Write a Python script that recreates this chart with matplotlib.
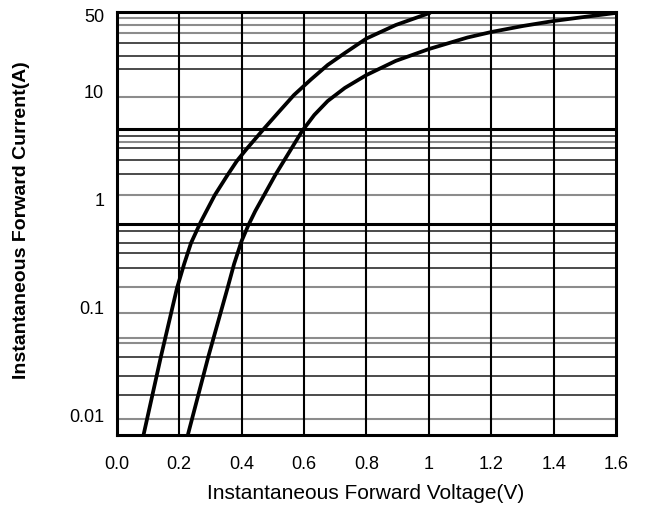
import matplotlib
matplotlib.use('Agg')
import matplotlib.pyplot as plt

# forward voltage (V) / current (A)
volt_a = [0.086, 0.142, 0.193, 0.216, 0.238, 0.269, 0.314, 0.355, 0.385, 0.416, 0.470, 0.519,
          0.568, 0.622, 0.676, 0.731, 0.800, 0.894, 1.000]
amp_a = [0.0067, 0.0358, 0.152, 0.254, 0.397, 0.621, 1.10, 1.69, 2.28, 2.94, 4.47, 6.46,
         9.29, 12.9, 17.6, 22.7, 30.9, 41.2, 52.9]

volt_b = [0.228, 0.294, 0.355, 0.376, 0.400, 0.422, 0.444, 0.508, 0.557, 0.594, 0.633, 0.676,
          0.731, 0.800, 0.894, 1.000, 1.124, 1.200, 1.302, 1.400, 1.497, 1.597]
amp_b = [0.0067, 0.0358, 0.152, 0.254, 0.414, 0.582, 0.785, 1.69, 2.88, 4.31, 6.07, 8.17,
         10.8, 14.2, 19.2, 24.7, 31.6, 35.5, 40.4, 44.9, 48.9, 53.2]

# horizontal rulings of the printed log paper
grid_thick = [4.50, 0.595]
grid_dark = [28.1, 21.3, 16.2, 3.88, 3.00, 2.33, 1.73, 0.513, 0.397, 0.324, 0.235,
             0.0350, 0.0236, 0.0157]
grid_gray = [47.9, 41.2, 34.8, 8.90, 3.41, 1.10, 0.155, 0.0894, 0.0525, 0.0472, 0.00935]
grid_v = [0.2, 0.4, 0.6, 0.8, 1.0, 1.2, 1.4]

xticks = [0.0, 0.2, 0.4, 0.6, 0.8, 1.0, 1.2, 1.4, 1.6]
xlabels = ['0.0', '0.2', '0.4', '0.6', '0.8', '1', '1.2', '1.4', '1.6']
yticks = [50, 10, 1, 0.1, 0.01]
ylabels = ['50', '10', '1', '0.1', '0.01']

sans = ['Liberation Sans', 'DejaVu Sans']

fig = plt.figure(figsize=(6.46, 5.12), dpi=100)
ax = fig.add_axes([0.1807, 0.1504, 0.9536 - 0.1807, 0.9766 - 0.1504])
ax.set_yscale('log')
ax.set_xlim(0, 1.6)
ax.set_ylim(0.00667, 54.4)

for g in grid_gray:
    ax.axhline(g, color='#8c8c8c', lw=1.5, zorder=1)
for g in grid_dark:
    ax.axhline(g, color='#1a1a1a', lw=1.1, zorder=1)
for g in grid_thick:
    ax.axhline(g, color='black', lw=2.2, zorder=1)
for g in grid_v:
    ax.axvline(g, color='black', lw=1.5, zorder=1)

ax.plot(volt_a, amp_a, color='black', lw=2.7, solid_joinstyle='round', zorder=3)
ax.plot(volt_b, amp_b, color='black', lw=2.7, solid_joinstyle='round', zorder=3)

for s in ax.spines.values():
    s.set_linewidth(2.2)

ax.set_xticks(xticks)
ax.set_xticklabels(xlabels, family=sans, fontsize=13)
ax.set_yticks(yticks)
ax.set_yticklabels(ylabels, family=sans, fontsize=13)
ax.minorticks_off()
ax.tick_params(axis='both', length=0)
ax.tick_params(axis='x', pad=15)
ax.tick_params(axis='y', pad=9)

fig.text(0.566, 0.037, 'Instantaneous Forward Voltage(V)', family=sans,
         fontsize=15, ha='center', va='center')
fig.text(0.034, 0.57, 'Instantaneous Forward Current(A)', family=sans,
         fontsize=14, fontweight='bold', rotation=90, ha='center', va='center')

fig.savefig('out.png', dpi=100)
